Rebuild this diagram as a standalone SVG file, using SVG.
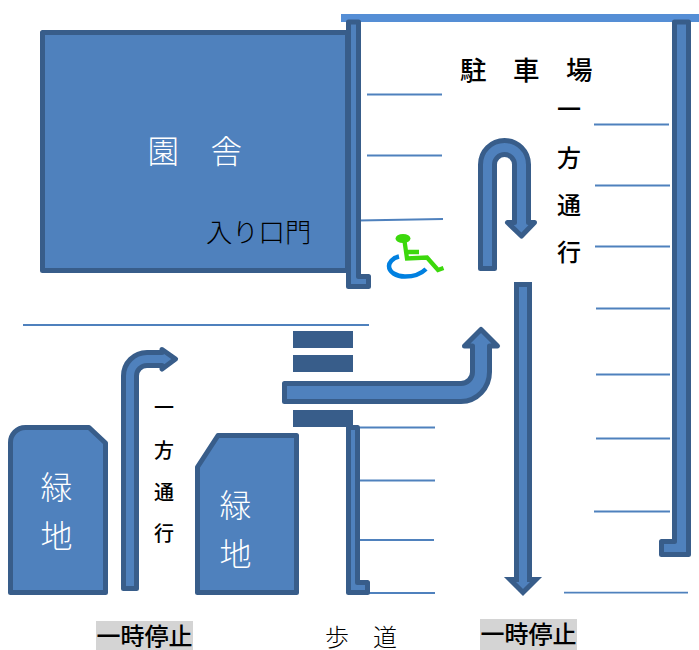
<svg xmlns="http://www.w3.org/2000/svg" width="699" height="650" viewBox="0 0 699 650">
<style>
.s{fill:#4f81bd;stroke:#385d8a;stroke-width:5;stroke-linejoin:round}
.m{stroke-linejoin:miter}
.l{stroke:#4f81bd;stroke-width:1.800;fill:none}
.c{fill:#385d8a}
text{font-family:"Noto Sans CJK JP","Noto Sans",sans-serif;fill:#000}
.w{fill:#fff;font-weight:300}
.g{fill:#d4d4d4}
</style>
<rect width="699" height="650" fill="#fff"/>
<g id="parking-lines">
<path class="l" d="M367 94.500H442M367 155.500H442M358 220.500L443 219M594 124.500H669M595 185.500H670M595 246.500H670M596 308.500H670M596 374.500H670M596 438.500H670M594 511.500H670M564 592.700H688M360 427.500H435M360 480.500H435M359 540H434M360 593H435M23 325H369"/>
</g>
<g id="top-wall"><rect x="341" y="14" width="358" height="8" fill="#558ed5"/></g>
<g id="building">
<rect class="s" x="42.500" y="32.500" width="305" height="238"/>
<text class="w" x="147.500" y="163" font-size="31.500">園　舎</text>
<text x="206" y="242" font-size="26.300" font-weight="300">入り口門</text>
</g>
<g id="wall-upper"><path class="s" d="M348.500 22V286.500H368.500V276.500H358.500V22Z"/></g>
<g id="wall-right"><path class="s" d="M674.500 22V541.500H661.500V554.500H688.500V22Z"/></g>
<g id="wall-lower"><path class="s" d="M348.500 427.500H357.500V582.500H367.500V592.500H348.500Z"/></g>
<g id="crosswalk">
<rect class="c" x="293" y="331" width="60" height="17"/>
<rect class="c" x="293" y="355" width="60" height="17"/>
<rect class="c" x="293" y="410" width="60" height="17"/>
</g>
<g id="green-left">
<path class="s" d="M10.500 443A15 15 0 0 1 25.500 427.500H89L105.500 443V592.500H10.500Z"/>
<text class="w" x="40.500" y="499" font-size="32">緑</text>
<text class="w" x="40.500" y="548" font-size="32">地</text>
</g>
<g id="green-right">
<path class="s" d="M197.500 467L218 435.500H296.500V592.500H197.500Z"/>
<text class="w" x="219.500" y="517" font-size="32">緑</text>
<text class="w" x="219.500" y="566" font-size="32">地</text>
</g>
<g id="connectors">
<path class="s" d="M480.500 268.500V164.500A24 24 0 0 1 528.500 164.500V222.500H534.500L521.500 236L507.500 222.500H514.500V164.500A10 10 0 0 0 494.500 164.500V268.500Z"/>
<path class="s m" d="M516.500 284.500V579.500H510L523 592.500L536 579.500H529.500V284.500Z"/>
<path class="s" d="M284.500 383.500H461A11.500 11.500 0 0 0 472.500 372V346H464.500L481 329.500L497.500 346H489.500V372A29 29.500 0 0 1 461 401.500H284.500Z"/>
<path class="s" d="M123.500 588.500V376A23.500 23.500 0 0 1 147 352.500H162V349.500L175.500 359L162 369V365.500H147A10.500 10.500 0 0 0 136.500 376V588.500Z"/>
</g>
<g id="wheelchair">
<ellipse cx="403" cy="238.500" rx="7.500" ry="4.500" fill="#3cd80c"/>
<path d="M404.500 241L407 258.500L427 257.500L438 270L443.500 268M408 252H419" fill="none" stroke="#3cd80c" stroke-width="4.300"/>
<path d="M399 256.500C392 258 389 263 389 266C389 272 396 276.500 405 276.500C413 276.500 421 274 426 269" fill="none" stroke="#0080e0" stroke-width="4.500"/>
</g>
<g id="labels">
<text x="460" y="80" font-size="26.500" font-weight="500">駐　車　場</text>
<g font-size="24" font-weight="500">
<text x="557" y="118">一</text><text x="557" y="167">方</text><text x="557" y="214">通</text><text x="557" y="261">行</text>
</g>
<g font-size="20" font-weight="500">
<text x="154" y="415">一</text><text x="154" y="458">方</text><text x="154" y="500">通</text><text x="154" y="541">行</text>
</g>
<text x="325" y="646" font-size="24" font-weight="300">歩　道</text>
<rect class="g" x="96" y="621" width="97" height="29"/>
<text x="96.500" y="645" font-size="24" font-weight="500">一時停止</text>
<rect class="g" x="480" y="619" width="97" height="31"/>
<text x="480.500" y="643" font-size="24" font-weight="500">一時停止</text>
</g>
</svg>
